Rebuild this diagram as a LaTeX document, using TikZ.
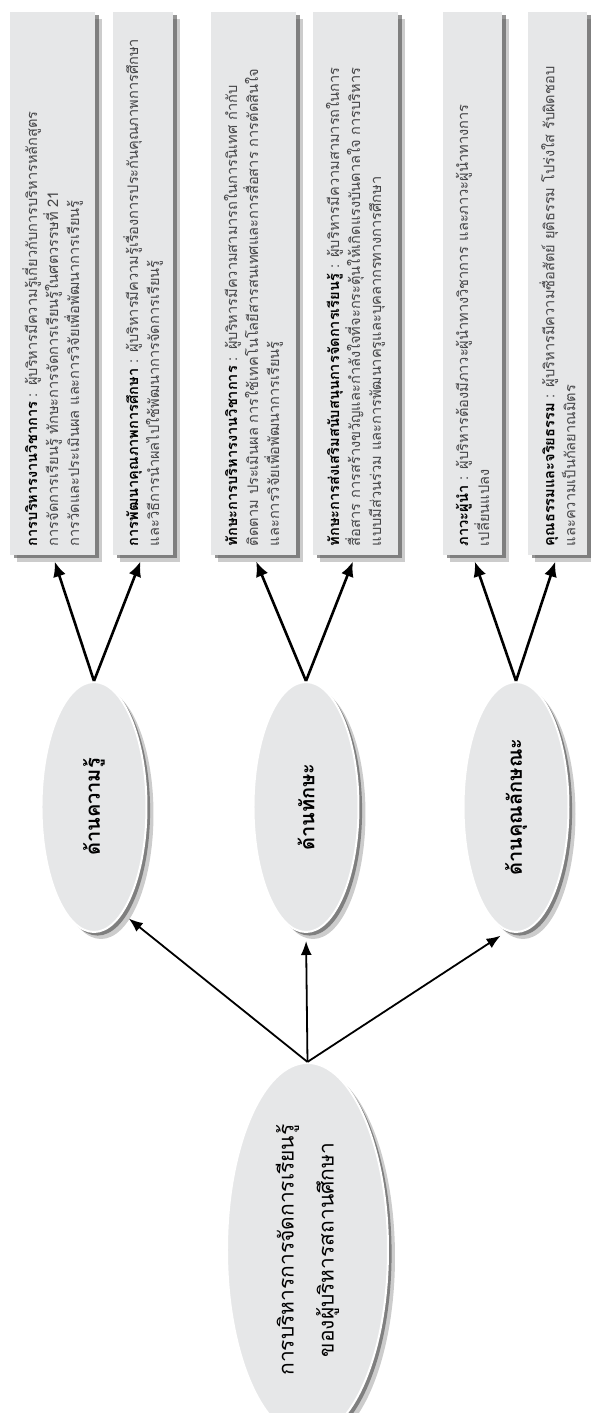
\documentclass[tikz,border=0pt]{standalone}
\usepackage{fontspec}
\newfontfamily\thaifont[Script=Thai]{Loma}
\usetikzlibrary{shapes.geometric,shadows,arrows.meta}
\definecolor{panelgray}{RGB}{230,231,232}
\definecolor{bodygray}{RGB}{70,70,72}
\newcommand{\itemhead}[1]{\textcolor{black}{\textbf{#1}}}

\begin{document}
\begin{tikzpicture}[x=0.5pt,y=0.5pt,rotate=90,transform shape,
    softshadow/.style={general shadow={shadow xshift=3.5pt,shadow yshift=-3.5pt,fill=black!40,opacity=.5},
                       general shadow={shadow xshift=1.8pt,shadow yshift=-1.8pt,fill=black!70,opacity=.6}},
    topic/.style={ellipse,fill=panelgray,draw=white,line width=1pt,softshadow,inner sep=0pt,
                  minimum width=125pt,minimum height=52.5pt,font=\thaifont\bfseries\fontsize{10}{12}\selectfont},
    item/.style={rectangle,fill=panelgray,softshadow,anchor=west,text width=263pt,align=left,
                 inner xsep=4.25pt,inner ysep=0pt,text=bodygray,font=\thaifont\fontsize{7.3}{10.5}\selectfont},
    toTopic/.style={-{Latex[length=7pt,width=5.5pt]},line width=.9pt,shorten >=4pt},
    toItem/.style={-{Latex[length=7.5pt,width=6.5pt]},line width=1.3pt,shorten >=3.5pt}]
  \useasboundingbox (0,0) rectangle (1413,590);

  % root
  \node[ellipse,fill=panelgray,draw=white,line width=1pt,softshadow,minimum width=158pt,minimum height=80.5pt,
        align=center,font=\thaifont\fontsize{10.5}{20}\selectfont] (root) at (163,282.5)
        {การบริหารการจัดการเรียนรู้\\ของผู้บริหารสถานศึกษา};

  % three sides
  \node[topic] (know) at (606,496) {ด้านความรู้};
  \node[topic] (skill) at (606,284) {ด้านทักษะ};
  \node[topic] (trait) at (606,74) {ด้านคุณลักษณะ};

  % details
  \node[item,minimum height=42.5pt] (acad) at (858,537.5)
    {\itemhead{การบริหารงานวิชาการ} : ผู้บริหารมีความรู้เกี่ยวกับการบริหารหลักสูตร\\
     การจัดการเรียนรู้ ทักษะการจัดการเรียนรู้ในศตวรรษที่ 21\\
     การวัดและประเมินผล และการวิจัยเพื่อพัฒนาการเรียนรู้};
  \node[item,minimum height=30pt] (qual) at (858,447)
    {\itemhead{การพัฒนาคุณภาพการศึกษา} : ผู้บริหารมีความรู้เรื่องการประกันคุณภาพการศึกษา\\
     และวิธีการนำผลไปใช้พัฒนาการจัดการเรียนรู้};
  \node[item,minimum height=42.5pt] (admin) at (858,336.5)
    {\itemhead{ทักษะการบริหารงานวิชาการ} : ผู้บริหารมีความสามารถในการนิเทศ กำกับ\\
     ติดตาม ประเมินผล การใช้เทคโนโลยีสารสนเทศและการสื่อสาร การตัดสินใจ\\
     และการวิจัยเพื่อพัฒนาการเรียนรู้};
  \node[item,minimum height=42.5pt] (support) at (858,234.5)
    {\itemhead{ทักษะการส่งเสริมสนับสนุนการจัดการเรียนรู้} : ผู้บริหารมีความสามารถในการ\\
     สื่อสาร การสร้างขวัญและกำลังใจที่จะกระตุ้นให้เกิดแรงบันดาลใจ การบริหาร\\
     แบบมีส่วนร่วม และการพัฒนาครูและบุคลากรทางการศึกษา};
  \node[item,minimum height=29.5pt] (lead) at (858,117.5)
    {\itemhead{ภาวะผู้นำ} : ผู้บริหารต้องมีภาวะผู้นำทางวิชาการ และภาวะผู้นำทางการ\\
     เปลี่ยนแปลง};
  \node[item,minimum height=29.5pt] (ethic) at (858,32.5)
    {\itemhead{คุณธรรมและจริยธรรม} : ผู้บริหารมีความซื่อสัตย์ ยุติธรรม โปร่งใส รับผิดชอบ\\
     และความเป็นกัลยาณมิตร};

  \draw[toTopic] (root.east) -- (know.195);
  \draw[toTopic] (root.east) -- (skill.west);
  \draw[toTopic] (root.east) -- (trait.176);

  \draw[toItem] (know.east) -- (acad.west);
  \draw[toItem] (know.east) -- (qual.west);
  \draw[toItem] (skill.east) -- (admin.west);
  \draw[toItem] (skill.east) -- (support.west);
  \draw[toItem] (trait.east) -- (lead.west);
  \draw[toItem] (trait.east) -- (ethic.west);
\end{tikzpicture}
\end{document}
